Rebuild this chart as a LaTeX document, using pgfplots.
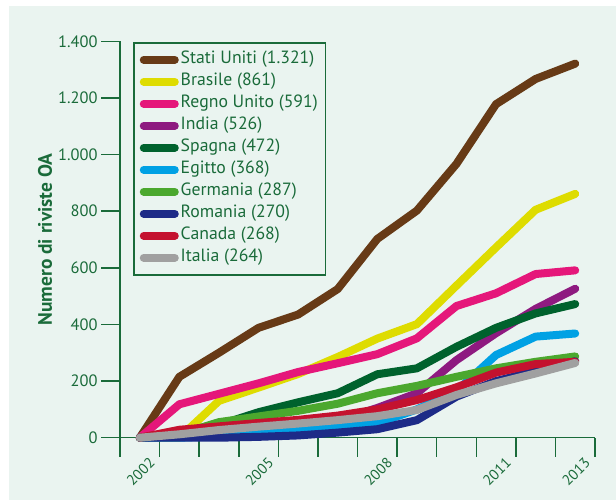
\documentclass[border=0pt]{standalone}
\usepackage{pgfplots}
\pgfplotsset{compat=1.18}
\usepackage{fontspec}
\setmainfont{PT Sans}
\definecolor{bg}{RGB}{234,244,240}
\definecolor{ax}{RGB}{26,107,58}
\definecolor{cUS}{RGB}{103,58,22}
\definecolor{cBR}{RGB}{222,220,0}
\definecolor{cUK}{RGB}{229,23,122}
\definecolor{cIN}{RGB}{142,26,128}
\definecolor{cES}{RGB}{0,98,45}
\definecolor{cEG}{RGB}{0,161,228}
\definecolor{cDE}{RGB}{75,168,46}
\definecolor{cRO}{RGB}{29,43,135}
\definecolor{cCA}{RGB}{196,18,47}
\definecolor{cIT}{RGB}{160,160,160}
\begin{document}
\begin{tikzpicture}[x=1bp,y=1bp]
\fill[white] (-120,-65.3) rectangle (496,437.7);
\fill[bg] (-111,-62.3) rectangle (496,431.7);
\begin{axis}[
  at={(0,0)}, anchor=south west,
  scale only axis, width=475bp, height=396.4bp,
  xmin=2001.5, xmax=2013.5, ymin=0, ymax=1400,
  axis lines*=left,
  axis line style={ax, line width=1.5bp},
  clip=false,
  tick align=outside,
  major tick length=19bp,
  tick style={ax, line width=1.5bp},
  xtick={2001.5,2002.5,2003.5,2004.5,2005.5,2006.5,2007.5,2008.5,2009.5,2010.5,2011.5,2012.5,2013.5},
  xticklabels={},
  extra x ticks={2002,2005,2008,2011,2013},
  extra x tick labels={2002,2005,2008,2011,2013},
  extra x tick style={major tick length=0pt, tick style={draw=none},
    tick label style={rotate=45, anchor=north east, xshift=-4bp, yshift=-16bp}},
  ytick={0,200,400,600,800,1000,1200,1400},
  yticklabels={0,200,400,600,800,1.000,1.200,1.400},
  y tick label style={font=\fontsize{16.5}{18}\selectfont, text=ax},
  x tick label style={font=\fontsize{14.8}{17}\selectfont, text=ax},
  /pgf/number format/assume math mode=true,
  every axis y label/.style={at={(axis description cs:-0.1579,0.5)}, rotate=90, anchor=center},
  ylabel={\bfseries Numero di riviste OA},
  ylabel style={font=\fontsize{19.5}{21}\selectfont, text=ax},
  legend style={at={(axis description cs:0.02737,0.9982)}, anchor=north west,
    draw=ax, line width=1.5bp, fill=none, text=ax,
    font=\fontsize{17.8}{19}\selectfont,
    inner xsep=6bp, inner ysep=6bp, row sep=0bp,
    nodes={text height=12bp, text depth=4bp, inner ysep=3bp}},
  legend cell align=left,
  legend image code/.code={\path (0bp,0bp) -- (31bp,0bp);\draw[#1, line width=5bp, line cap=butt] (0bp,0bp) -- (30bp,0bp);},
  every axis plot/.append style={line width=8bp, line cap=round, line join=round},
]
\addplot[cUS] coordinates {(2002,0)(2003,215)(2004,300)(2005,388)(2006,435)(2007,525)(2008,702)(2009,802)(2010,967)(2011,1178)(2012,1267)(2013,1321)};
\addlegendentry{Stati Uniti (1.321)}
\addplot[cBR] coordinates {(2002,0)(2003,0)(2004,130)(2005,177)(2006,225)(2007,285)(2008,350)(2009,401)(2010,537)(2011,672)(2012,805)(2013,861)};
\addlegendentry{Brasile (861)}
\addplot[cUK] coordinates {(2002,0)(2003,118)(2004,155)(2005,192)(2006,232)(2007,263)(2008,295)(2009,351)(2010,465)(2011,510)(2012,578)(2013,591)};
\addlegendentry{Regno Unito (591)}
\addplot[cIN] coordinates {(2002,0)(2003,3)(2004,10)(2005,20)(2006,35)(2007,60)(2008,105)(2009,157)(2010,274)(2011,369)(2012,455)(2013,526)};
\addlegendentry{India (526)}
\addplot[cES] coordinates {(2002,0)(2003,10)(2004,45)(2005,90)(2006,125)(2007,157)(2008,224)(2009,245)(2010,321)(2011,388)(2012,439)(2013,472)};
\addlegendentry{Spagna (472)}
\addplot[cEG] coordinates {(2002,0)(2003,0)(2004,5)(2005,15)(2006,30)(2007,40)(2008,51)(2009,100)(2010,165)(2011,292)(2012,357)(2013,368)};
\addlegendentry{Egitto (368)}
\addplot[cDE] coordinates {(2002,0)(2003,12)(2004,55)(2005,75)(2006,95)(2007,120)(2008,157)(2009,183)(2010,215)(2011,245)(2012,268)(2013,287)};
\addlegendentry{Germania (287)}
\addplot[cRO] coordinates {(2002,0)(2003,0)(2004,0)(2005,3)(2006,8)(2007,18)(2008,30)(2009,62)(2010,145)(2011,200)(2012,235)(2013,270)};
\addlegendentry{Romania (270)}
\addplot[cCA] coordinates {(2002,0)(2003,28)(2004,40)(2005,52)(2006,63)(2007,78)(2008,100)(2009,133)(2010,178)(2011,230)(2012,260)(2013,268)};
\addlegendentry{Canada (268)}
\addplot[cIT] coordinates {(2002,0)(2003,12)(2004,27)(2005,39)(2006,50)(2007,62)(2008,76)(2009,98)(2010,151)(2011,192)(2012,227)(2013,264)};
\addlegendentry{Italia (264)}
\end{axis}
\end{tikzpicture}
\end{document}
